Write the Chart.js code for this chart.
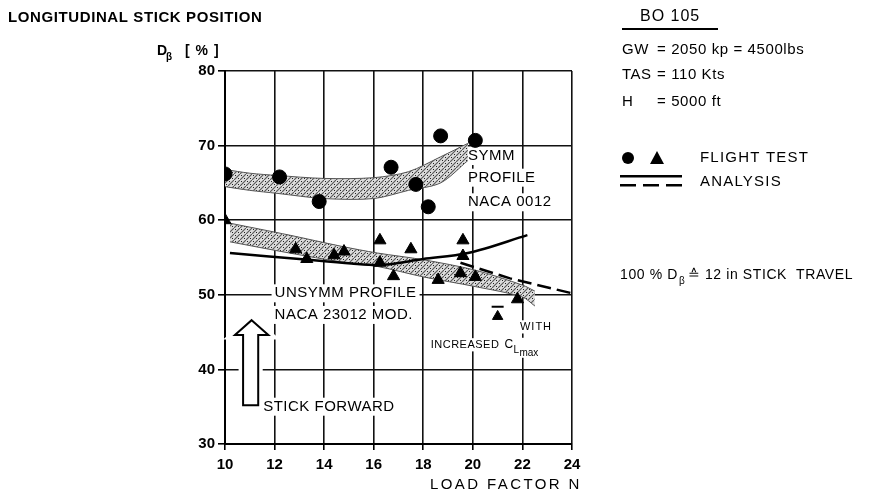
<html>
<head>
<script src="https://cdn.jsdelivr.net/npm/chart.js@4.4.1/dist/chart.umd.min.js"></script>
<style>
  body { margin: 0; background: #fff; }
  #box { width: 876px; height: 503px; }
</style>
</head>
<body>
<div id="box"><canvas id="c" width="876" height="503"></canvas></div>
<script>
// load factor N on x, stick position D_beta [%] on y
var xTicks = ['10', '12', '14', '16', '18', '20', '22', '24'];

// flight test, symmetric profile (circles)
var circleX = [1.00, 1.22, 1.38, 1.67, 1.77, 1.82, 1.87, 2.01];
var circleY = [66.2, 65.8, 62.5, 67.1, 64.8, 61.8, 71.3, 70.7];

// flight test, unsymmetric profile (triangles)
var triX = [1.00, 1.285, 1.33, 1.44, 1.48, 1.625, 1.625, 1.68, 1.75, 1.86, 1.95, 1.96, 1.96, 2.01, 2.18];
var triY = [60.0, 56.1, 54.8, 55.3, 55.8, 57.3, 54.3, 52.5, 56.1, 52.0, 52.9, 57.3, 55.2, 52.4, 49.4];

// flight test with increased CL max
var clX = [2.10];
var clY = [47.1];

// hatched scatter bands
var symmX  = [1.00, 1.10, 1.21, 1.40, 1.60, 1.74, 1.87, 1.98];
var symmHi = [66.8, 66.3, 66.0, 65.6, 65.7, 66.5, 68.5, 70.3];
var symmLo = [64.5, 64.0, 63.6, 62.9, 62.9, 64.0, 65.0, 68.0];

var unsymmX  = [1.02, 1.26, 1.47, 1.615, 1.80, 2.01, 2.20, 2.25];
var unsymmHi = [59.6, 58.0, 56.5, 55.6, 54.7, 53.3, 51.3, 50.5];
var unsymmLo = [57.1, 55.6, 54.4, 53.8, 52.4, 51.1, 49.7, 48.5];

// analysis
var analysisX = [1.02, 1.30, 1.51, 1.615, 1.80, 1.98, 2.22];
var analysisY = [55.6, 54.8, 54.2, 54.0, 54.8, 55.6, 58.0];
var dashedX = [1.95, 2.15, 2.40];
var dashedY = [54.3, 52.2, 50.2];

function pts(xs, ys) {
  var out = [];
  for (var i = 0; i < xs.length; i++) out.push({x: xs[i], y: ys[i]});
  return out;
}

function hatch() {
  var c = document.createElement('canvas');
  c.width = 6; c.height = 6;
  var g = c.getContext('2d');
  g.fillStyle = '#dcdcdc';
  g.fillRect(0, 0, 6, 6);
  g.strokeStyle = '#555';
  g.lineWidth = 1.1;
  g.beginPath(); g.moveTo(0, 6); g.lineTo(6, 0); g.stroke();
  g.fillStyle = '#222';
  g.fillRect(1, 1, 1, 1);
  g.fillRect(4, 4, 1, 1);
  return g.createPattern(c, 'repeat');
}
var pat = hatch();
var FONT = '"Liberation Sans", Arial, sans-serif';

function txt(ctx, s, x, y, size, opts) {
  opts = opts || {};
  ctx.font = (opts.bold ? 'bold ' : '') + size + 'px ' + FONT;
  ctx.letterSpacing = (opts.ls || 0) + 'px';
  ctx.textBaseline = 'middle';
  ctx.textAlign = opts.align || 'left';
  if (opts.bg) {
    var w = ctx.measureText(s).width;
    var x0 = opts.align == 'right' ? x - w : x;
    ctx.fillStyle = '#fff';
    ctx.fillRect(x0 - 3, y - size * 0.6, w + 6, size * 1.2);
  }
  ctx.fillStyle = '#000';
  ctx.fillText(s, x, y);
  return ctx.measureText(s).width;
}

var notes = {
  id: 'notes',
  beforeDatasetsDraw: function(chart) {
    var ctx = chart.ctx, sx = chart.scales.x, sy = chart.scales.y;
    var X = function(v) { return sx.getPixelForValue(v); };
    var Y = function(v) { return sy.getPixelForValue(v); };
    ctx.save();
    txt(ctx, 'SYMM', X(1.98), Y(68.6), 15, {bg: 1, ls: 0.5});
    txt(ctx, 'PROFILE', X(1.98), Y(65.7), 15, {bg: 1, ls: 0.5});
    txt(ctx, 'NACA 0012', X(1.98), Y(62.4), 15, {bg: 1, ls: 0.5});
    txt(ctx, 'UNSYMM PROFILE', X(1.20), Y(50.2), 15, {bg: 1, ls: 0.5});
    txt(ctx, 'NACA 23012 MOD.', X(1.20), Y(47.3), 15, {bg: 1, ls: 0.5});
    txt(ctx, 'STICK FORWARD', X(1.154), Y(35.0), 15, {bg: 1, ls: 0.5});
    txt(ctx, 'WITH', X(2.19), Y(45.7), 11, {bg: 1, ls: 1});
    var w = txt(ctx, 'INCREASED', X(1.83), Y(43.3), 11, {bg: 1, ls: 0.5});
    ctx.fillStyle = '#fff';
    ctx.fillRect(X(1.83) + w, Y(43.3) - 7, 30, 20);
    txt(ctx, 'C', X(1.83) + w + 5, Y(43.3), 12);
    txt(ctx, 'L', X(1.83) + w + 14, Y(43.3) + 5, 10);
    txt(ctx, 'max', X(1.83) + w + 20, Y(43.3) + 8, 10);
    // hollow arrow pointing up
    var l = X(1.04), r = X(1.175), sl = X(1.073), sr = X(1.134);
    var tip = Y(46.6), hb = Y(44.6), bot = Y(35.2);
    ctx.beginPath();
    ctx.moveTo((l + r) / 2, tip);
    ctx.lineTo(r, hb); ctx.lineTo(sr, hb); ctx.lineTo(sr, bot);
    ctx.lineTo(sl, bot); ctx.lineTo(sl, hb); ctx.lineTo(l, hb);
    ctx.closePath();
    ctx.lineJoin = 'miter';
    ctx.strokeStyle = '#fff';
    ctx.lineWidth = 9;
    ctx.stroke();
    ctx.fillStyle = '#fff';
    ctx.fill();
    ctx.lineWidth = 2;
    ctx.strokeStyle = '#000';
    ctx.stroke();
    ctx.restore();
  },
  afterDraw: function(chart) {
    var ctx = chart.ctx;
    ctx.save();
    txt(ctx, 'LONGITUDINAL STICK POSITION', 8, 18, 15, {bold: 1, ls: 0.6});
    txt(ctx, 'D', 157, 51, 14, {bold: 1});
    txt(ctx, '\u03B2', 166, 57, 10, {bold: 1});
    txt(ctx, '[ % ]', 185, 51, 14, {bold: 1, ls: 1});
    txt(ctx, 'LOAD FACTOR N', 430, 485, 15, {ls: 2.4});
    // right block
    txt(ctx, 'BO 105', 640, 17, 16, {ls: 1});
    ctx.fillStyle = '#000';
    ctx.fillRect(622, 28, 96, 2);
    txt(ctx, 'GW', 622, 50, 15, {ls: 0.5});
    txt(ctx, '= 2050 kp = 4500lbs', 657, 50, 15, {ls: 0.6});
    txt(ctx, 'TAS', 622, 75, 15, {ls: 0.5});
    txt(ctx, '= 110 Kts', 657, 75, 15, {ls: 0.6});
    txt(ctx, 'H', 622, 102, 15, {ls: 0.5});
    txt(ctx, '= 5000 ft', 657, 102, 15, {ls: 0.6});
    // legend
    ctx.fillStyle = '#000';
    ctx.beginPath(); ctx.arc(628, 158, 6, 0, Math.PI * 2); ctx.fill();
    ctx.beginPath(); ctx.moveTo(657, 151); ctx.lineTo(664, 164); ctx.lineTo(650, 164); ctx.closePath(); ctx.fill();
    txt(ctx, 'FLIGHT TEST', 700, 158, 15, {ls: 1.2});
    ctx.fillStyle = '#000';
    ctx.fillRect(620, 175, 62, 2.5);
    ctx.fillRect(620, 184, 16, 2.5);
    ctx.fillRect(643, 184, 16, 2.5);
    ctx.fillRect(666, 184, 16, 2.5);
    txt(ctx, 'ANALYSIS', 700, 182, 15, {ls: 1.2});
    var x0 = 620, y0 = 275;
    x0 += txt(ctx, '100 % D', x0, y0, 14, {ls: 0.6});
    txt(ctx, '\u03B2', x0 + 1, y0 + 6, 10);
    txt(ctx, '\u2259 12 in STICK  TRAVEL', x0 + 10, y0, 14, {ls: 0.6});
    ctx.restore();
  }
};

var black = '#000';
new Chart(document.getElementById('c'), {
  type: 'scatter',
  data: {
    datasets: [
      { label: 'symm flight test', data: pts(circleX, circleY), pointStyle: 'circle',
        pointRadius: 7, backgroundColor: black, borderColor: black, showLine: false },
      { label: 'unsymm flight test', data: pts(triX, triY), pointStyle: 'triangle',
        pointRadius: 7, backgroundColor: black, borderColor: black, showLine: false },
      { label: 'increased CL max', data: pts(clX, clY), pointStyle: 'triangle',
        pointRadius: 6, backgroundColor: black, borderColor: black, showLine: false },
      { label: 'bar', data: pts(clX, clY.map(function(v) { return v + 1.3; })), pointStyle: 'line',
        pointRadius: 6, borderWidth: 2, borderColor: black, showLine: false },
      { label: 'analysis', data: pts(analysisX, analysisY), showLine: true, pointRadius: 0,
        borderColor: black, borderWidth: 2.5, cubicInterpolationMode: 'monotone' },
      { label: 'analysis increased CL max', data: pts(dashedX, dashedY), showLine: true, pointRadius: 0,
        borderColor: black, borderWidth: 2.5, borderDash: [14, 6] },
      { label: 'symm hi', data: pts(symmX, symmHi), showLine: true, pointRadius: 0,
        borderColor: '#555', borderWidth: 1, tension: 0.3 },
      { label: 'symm lo', data: pts(symmX, symmLo), showLine: true, pointRadius: 0,
        borderColor: '#555', borderWidth: 1, tension: 0.3, fill: '-1', backgroundColor: pat },
      { label: 'unsymm hi', data: pts(unsymmX, unsymmHi), showLine: true, pointRadius: 0,
        borderColor: '#555', borderWidth: 1, tension: 0.3 },
      { label: 'unsymm lo', data: pts(unsymmX, unsymmLo), showLine: true, pointRadius: 0,
        borderColor: '#555', borderWidth: 1, tension: 0.3, fill: '-1', backgroundColor: pat }
    ]
  },
  options: {
    responsive: false,
    animation: false,
    layout: { padding: { left: 0, top: 71, right: 304, bottom: 19 } },
    plugins: { legend: { display: false }, tooltip: { enabled: false } },
    scales: {
      x: {
        type: 'linear', min: 1.0, max: 2.4,
        afterFit: function(s) { s.height = 40; },
        afterBuildTicks: function(s) {
          s.ticks = xTicks.map(function(t, i) { return {value: 1.0 + i * 0.2}; });
        },
        ticks: {
          color: black, padding: 6,
          font: { family: FONT, size: 15, weight: 'bold' },
          callback: function(v, i) { return xTicks[i]; }
        },
        grid: { color: '#111', lineWidth: 1.6, tickLength: 6, tickColor: black },
        border: { color: black, width: 2 }
      },
      y: {
        min: 30, max: 80,
        afterFit: function(s) { s.width = 225; },
        ticks: {
          stepSize: 10, color: black, padding: 3,
          font: { family: FONT, size: 15, weight: 'bold' }
        },
        grid: { color: '#111', lineWidth: 1.6, tickLength: 7, tickColor: black },
        border: { color: black, width: 2 }
      }
    }
  },
  plugins: [notes]
});
</script>
</body>
</html>
